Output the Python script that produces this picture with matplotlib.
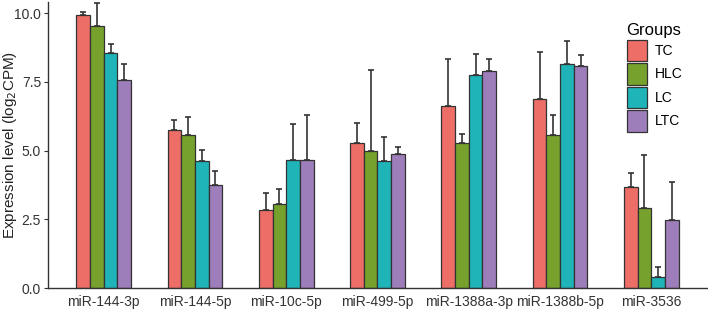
import numpy as np
import matplotlib
matplotlib.use("Agg")
from matplotlib import pyplot as plt
from matplotlib.patches import Patch

plt.rcParams['font.family'] = ['Liberation Sans', 'DejaVu Sans']

mirnas = ["miR-144-3p", "miR-144-5p", "miR-10c-5p", "miR-499-5p",
          "miR-1388a-3p", "miR-1388b-5p", "miR-3536"]
groups = ["TC", "HLC", "LC", "LTC"]
colors = ["#EC6E66", "#76A12C", "#1FB5B8", "#9E7DBB"]

# mean values per group
tc = [9.92, 5.74, 2.85, 5.27, 6.62, 6.86, 3.66]
hlc = [9.54, 5.56, 3.06, 4.99, 5.29, 5.57, 2.91]
lc = [8.53, 4.62, 4.64, 4.62, 7.75, 8.15, 0.40]
ltc = [7.55, 3.76, 4.67, 4.87, 7.88, 8.07, 2.48]

# top of the error bars
tc_err = [10.04, 6.10, 3.44, 5.99, 8.33, 8.59, 4.17]
hlc_err = [10.36, 6.21, 3.59, 7.93, 5.60, 6.30, 4.84]
lc_err = [8.89, 5.02, 5.97, 5.49, 8.51, 9.00, 0.76]
ltc_err = [8.13, 4.24, 6.30, 5.11, 8.32, 8.48, 3.84]

means = [tc, hlc, lc, ltc]
tops = [tc_err, hlc_err, lc_err, ltc_err]

fig = plt.figure(figsize=(7.08, 3.09), dpi=100)
ax = fig.add_axes([48 / 708, 21 / 309, 659 / 708, 286 / 309])

x = np.arange(len(mirnas))
w = 0.15
for i in range(len(groups)):
    pos = x + (i - 1.5) * w
    m = np.array(means[i])
    up = np.array(tops[i]) - m
    ax.errorbar(pos, m, yerr=[np.zeros_like(up), up], fmt="none",
                ecolor="#333333", elinewidth=1.2, capsize=2, capthick=1.2, zorder=1)
    ax.bar(pos, m, width=w, color=colors[i], edgecolor="#333333",
           linewidth=0.9, zorder=2)

ax.set_xlim(-0.61, 6.61)
ax.set_ylim(0, 10.4)
ax.set_yticks([0, 2.5, 5, 7.5, 10])
ax.set_yticklabels(["0.0", "2.5", "5.0", "7.5", "10.0"])
ax.set_xticks(x)
ax.set_xticklabels(mirnas)
ax.tick_params(axis="both", labelsize=10, colors="#333333", length=3,
               width=0.8, labelcolor="#333333", pad=2)
ax.tick_params(axis="x", length=0, pad=5)
ax.set_ylabel("Expression level (log$_2$CPM)", fontsize=11, color="#222222")
ax.yaxis.set_label_coords(-0.044, 0.5)
for s in ["top", "right"]:
    ax.spines[s].set_visible(False)
for s in ["left", "bottom"]:
    ax.spines[s].set_color("#333333")
    ax.spines[s].set_linewidth(1.0)

handles = [Patch(facecolor=c, edgecolor="#333333", linewidth=0.9) for c in colors]
leg = fig.legend(handles, groups, title="Groups", loc="upper left",
                 bbox_to_anchor=(614 / 708, 1 - 10 / 309), frameon=False,
                 fontsize=10, title_fontsize=12, handlelength=1.45,
                 handleheight=2.0, labelspacing=0.15, handletextpad=0.6)
leg._legend_box.align = "left"

fig.savefig("out.png", dpi=100)
